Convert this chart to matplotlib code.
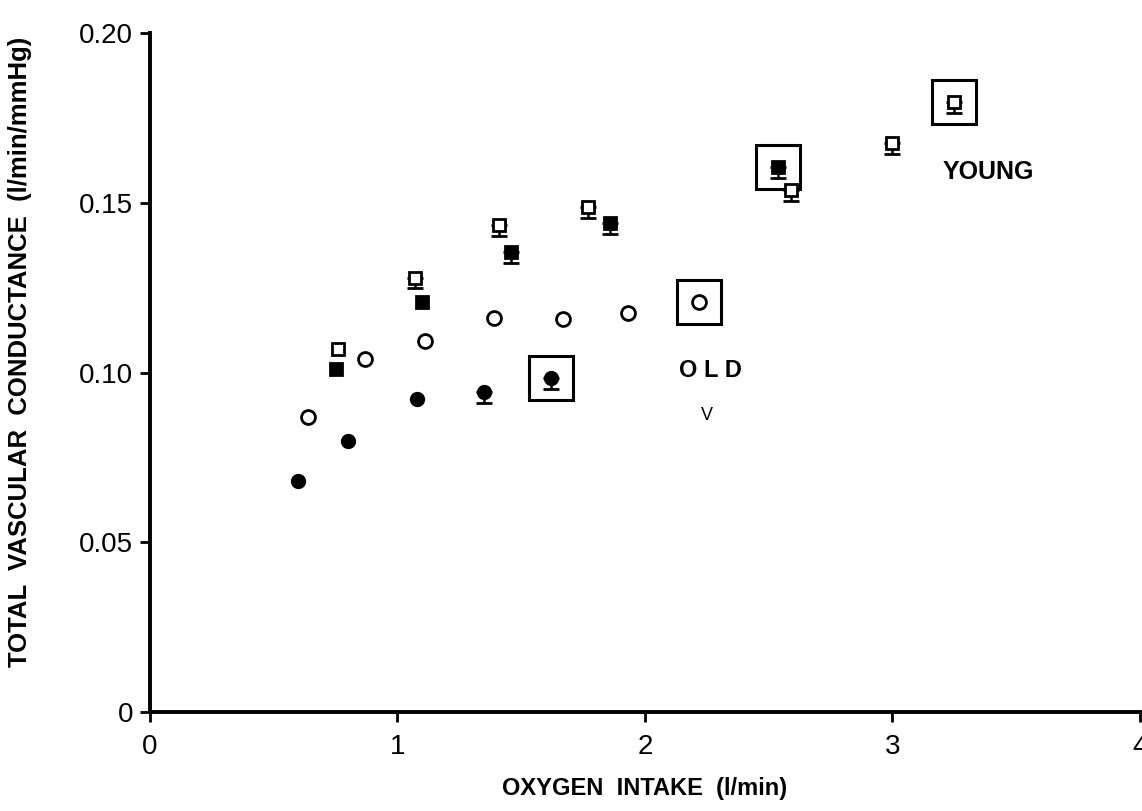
import numpy as np
import matplotlib.pyplot as plt

plt.rcParams['font.family'] = ['Liberation Sans', 'DejaVu Sans']

# young, open squares
young_open_x = [0.76, 1.07, 1.41, 1.77, 2.59, 3.00, 3.25]
young_open_y = [0.107, 0.128, 0.1435, 0.1487, 0.1538, 0.1676, 0.1797]
young_open_bar = [0, 1, 1, 1, 1, 1, 1]

# young, filled squares
young_fill_x = [0.75, 1.10, 1.46, 1.86, 2.54]
young_fill_y = [0.101, 0.1208, 0.1355, 0.144, 0.1605]
young_fill_bar = [0, 0, 1, 1, 1]

# old, open circles
old_open_x = [0.64, 0.87, 1.11, 1.39, 1.67, 1.93, 2.22]
old_open_y = [0.0869, 0.104, 0.1093, 0.1161, 0.1158, 0.1175, 0.1208]

# old, filled circles
old_fill_x = [0.60, 0.80, 1.08, 1.35, 1.62]
old_fill_y = [0.068, 0.0798, 0.0922, 0.0943, 0.0984]
old_fill_bar = [0, 0, 0, 1, 1]

se = 0.0032

fig = plt.figure(figsize=(11.42, 8.11), dpi=100)
ax = fig.add_axes([0.1313, 0.122, 0.8667, 0.837])


def plot_series(x, y, bars, marker, ms, filled):
    x = np.array(x)
    y = np.array(y)
    fc = 'black' if filled else 'white'
    if bars is not None:
        b = np.array(bars, dtype=bool)
        if b.any():
            ax.errorbar(x[b], y[b], yerr=[np.full(b.sum(), se), np.zeros(b.sum())],
                        fmt='none', ecolor='black', elinewidth=1.8, capsize=6,
                        capthick=2, zorder=2)
    ax.plot(x, y, linestyle='none', marker=marker, ms=ms, mfc=fc, mec='black',
            mew=2, zorder=3)
    # box around the peak value of each series
    ax.plot(x[-1], y[-1], linestyle='none', marker='s', ms=31, mfc='none',
            mec='black', mew=2.2, zorder=1)


plot_series(young_open_x, young_open_y, young_open_bar, 's', 9, False)
plot_series(young_fill_x, young_fill_y, young_fill_bar, 's', 8, True)
plot_series(old_open_x, old_open_y, None, 'o', 10, False)
plot_series(old_fill_x, old_fill_y, old_fill_bar, 'o', 9, True)

ax.text(3.39, 0.159, 'YOUNG', fontsize=18, fontweight='bold', ha='center', va='center')
ax.text(2.265, 0.1007, 'O L D', fontsize=17, fontweight='bold', ha='center', va='center')
ax.text(2.25, 0.0875, 'V', fontsize=13, ha='center', va='center')

ax.set_xlim(0, 4)
ax.set_ylim(0, 0.20)
ax.set_xticks([0, 1, 2, 3, 4])
ax.set_xticklabels(['0', '1', '2', '3', '4'])
ax.set_yticks([0, 0.05, 0.10, 0.15, 0.20])
ax.set_yticklabels(['0', '0.05', '0.10', '0.15', '0.20'])
ax.tick_params(direction='out', length=7, width=2, labelsize=20, pad=5)
ax.tick_params(axis='x', pad=9)
for s in ['top', 'right']:
    ax.spines[s].set_visible(False)
for s in ['left', 'bottom']:
    ax.spines[s].set_linewidth(2.8)

ax.set_xlabel('OXYGEN  INTAKE  (l/min)', fontsize=17, fontweight='bold', labelpad=12)
ax.set_ylabel('TOTAL  VASCULAR  CONDUCTANCE  (l/min/mmHg)', fontsize=18.5,
              fontweight='bold')
ax.yaxis.set_label_coords(-0.119, 0.53)

fig.savefig('out.png', dpi=100)
